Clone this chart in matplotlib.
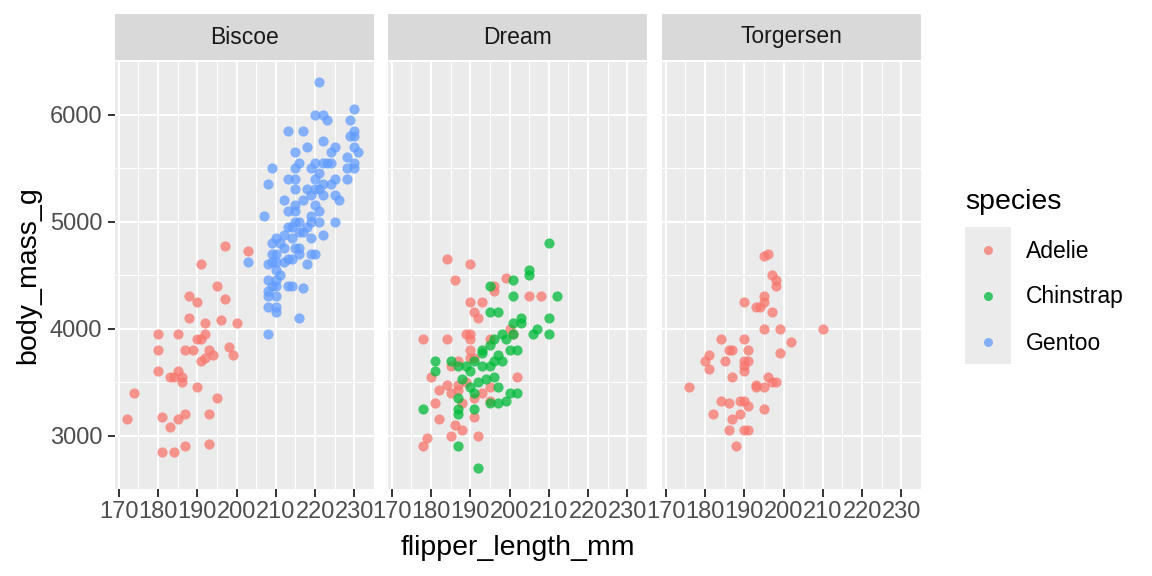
import matplotlib
matplotlib.use("Agg")
import matplotlib.pyplot as plt
import numpy as np

plt.rcParams['font.family'] = ['Liberation Sans', 'DejaVu Sans']

# values (flipper_length_mm, body_mass_g)
islands = ['Biscoe', 'Dream', 'Torgersen']
species = ['Adelie', 'Chinstrap', 'Gentoo']
species_colors = {'Adelie': '#F8766D', 'Chinstrap': '#00BA38', 'Gentoo': '#619CFF'}

biscoe_adelie_flipper = [197, 203, 191, 195, 188, 190, 197, 188, 192, 196, 200, 180, 185, 192, 190,
                         191, 180, 187, 189, 193, 198, 199, 194, 192, 191, 180, 185, 183, 184, 186,
                         186, 190, 174, 195, 172, 181, 185, 187, 193, 183, 181, 184, 187, 193]
biscoe_adelie_mass = [4775, 4725, 4600, 4400, 4300, 4250, 4275, 4100, 4050, 4075, 4050, 3950, 3950, 3950, 3900,
                      3900, 3800, 3800, 3800, 3800, 3825, 3750, 3750, 3725, 3700, 3600, 3600, 3550, 3550, 3550,
                      3500, 3450, 3400, 3350, 3150, 3175, 3150, 3200, 3200, 3075, 2850, 2850, 2900, 2925]

biscoe_gentoo_flipper = [221, 220, 222, 223, 230, 229, 230, 230, 229, 213, 217, 222, 225, 224, 218,
                         215, 230, 231, 216, 215, 219, 220, 222, 223, 224, 228, 230, 228, 230, 209,
                         221, 220, 213, 215, 225, 228, 208, 222, 224, 215, 218, 220, 221, 219, 222,
                         225, 226, 212, 217, 215, 220, 213, 215, 221, 219, 207, 225, 215, 216, 219,
                         221, 213, 214, 218,
                         210, 212, 214, 216, 217, 219, 222, 209, 211, 212, 215, 216, 216, 209, 210,
                         219, 220, 203, 213, 214, 212, 218, 208, 209, 210, 210, 211, 208, 210, 209,
                         210, 213, 214, 217, 208, 208, 210, 208, 210, 210, 216, 208]
biscoe_gentoo_mass = [6300, 6000, 6000, 5950, 6050, 5950, 5850, 5800, 5800, 5850, 5850, 5750, 5700, 5650, 5700,
                      5650, 5700, 5650, 5550, 5500, 5500, 5550, 5550, 5550, 5550, 5600, 5550, 5500, 5500, 5500,
                      5450, 5400, 5400, 5400, 5400, 5400, 5350, 5350, 5350, 5300, 5300, 5300, 5300, 5250, 5250,
                      5250, 5200, 5200, 5200, 5150, 5150, 5100, 5100, 5100, 5050, 5050, 5000, 5000, 5000, 5000,
                      5000, 4950, 4950, 4950,
                      4850, 4875, 4850, 4900, 4900, 4850, 4875, 4800, 4800, 4750, 4750, 4750, 4700, 4700, 4700,
                      4700, 4700, 4625, 4650, 4650, 4625, 4600, 4600, 4625, 4625, 4550, 4500, 4450, 4450, 4400,
                      4400, 4400, 4400, 4375, 4350, 4300, 4300, 4200, 4200, 4150, 4100, 3950]

dream_adelie_flipper = [184, 190, 186, 199, 196, 196, 205, 208, 190, 193, 191, 192, 200, 201, 178,
                        184, 189, 190, 190, 195, 190, 190, 191, 185, 187, 180, 184, 187, 189, 182,
                        185, 187, 193, 195, 202, 181, 188, 191, 195, 182, 191, 186, 188, 185, 192,
                        179, 178]
dream_adelie_mass = [4650, 4600, 4450, 4475, 4400, 4350, 4300, 4300, 4250, 4250, 4150, 4100, 4000, 3950, 3900,
                     3900, 3950, 3950, 3900, 3900, 3800, 3725, 3725, 3650, 3700, 3550, 3475, 3475, 3500, 3425,
                     3400, 3425, 3400, 3450, 3550, 3300, 3300, 3350, 3325, 3150, 3175, 3100, 3050, 3000, 3000,
                     2975, 2900]

dream_chinstrap_flipper = [210, 205, 205, 201, 195, 201, 212, 195, 197, 203, 210, 201, 203, 207, 206,
                           210, 198, 199, 201, 196, 195, 193, 193, 200, 202, 197, 198, 196, 181, 185,
                           187, 189, 191, 193, 195, 181, 190, 188, 192, 194, 196, 197, 190, 191, 200,
                           202, 187, 199, 195, 197, 178, 187, 187, 191, 187, 192]
dream_chinstrap_mass = [4800, 4550, 4500, 4450, 4400, 4300, 4300, 4150, 4150, 4100, 4100, 4050, 4050, 4000, 3950,
                        3950, 3950, 3900, 3950, 3900, 3850, 3800, 3775, 3800, 3800, 3750, 3700, 3700, 3700, 3700,
                        3650, 3650, 3700, 3650, 3650, 3600, 3600, 3525, 3500, 3525, 3550, 3450, 3450, 3400, 3400,
                        3400, 3350, 3325, 3300, 3300, 3250, 3250, 3200, 3250, 2900, 2700]

torgersen_adelie_flipper = [196, 195, 197, 198, 198, 195, 195, 190, 193, 194, 197, 195, 199, 210, 184,
                            190, 202, 186, 187, 191, 199, 181, 180, 185, 190, 191, 190, 181, 190, 187,
                            196, 197, 198, 193, 193, 195, 176, 184, 186, 189, 190, 191, 195, 182, 189,
                            187, 186, 190, 191, 188]
torgersen_adelie_mass = [4700, 4675, 4500, 4450, 4400, 4300, 4250, 4250, 4200, 4200, 4150, 4000, 4000, 4000, 3900,
                         3900, 3875, 3800, 3800, 3800, 3775, 3750, 3700, 3700, 3700, 3700, 3650, 3625, 3600, 3550,
                         3550, 3500, 3500, 3475, 3450, 3450, 3450, 3325, 3300, 3325, 3325, 3275, 3250, 3200, 3200,
                         3150, 3050, 3050, 3050, 2900]

panel_data = {
    'Biscoe': [('Adelie', biscoe_adelie_flipper, biscoe_adelie_mass),
               ('Gentoo', biscoe_gentoo_flipper, biscoe_gentoo_mass)],
    'Dream': [('Adelie', dream_adelie_flipper, dream_adelie_mass),
              ('Chinstrap', dream_chinstrap_flipper, dream_chinstrap_mass)],
    'Torgersen': [('Adelie', torgersen_adelie_flipper, torgersen_adelie_mass)],
}

x_ticks = [170, 180, 190, 200, 210, 220, 230]
y_ticks = [3000, 4000, 5000, 6000]

W, H = 1152, 576
fig = plt.figure(figsize=(W / 100, H / 100), dpi=100)


def px_axes(left, top, right, bottom):
    return fig.add_axes([left / W, 1 - bottom / H, (right - left) / W, (bottom - top) / H])


# shared scales with ggplot-style 5% expansion
all_x = np.concatenate([np.array(f) for sets in panel_data.values() for _, f, _ in sets])
all_y = np.concatenate([np.array(m) for sets in panel_data.values() for _, _, m in sets])
xpad = (all_x.max() - all_x.min()) * 0.05
ypad = (all_y.max() - all_y.min()) * 0.05
xlim = (all_x.min() - xpad, all_x.max() + xpad)
ylim = (all_y.min() - ypad, all_y.max() + ypad)

panel_left = [115, 388, 662]
panel_w = 259
panel_top, panel_bottom = 61, 489

for i, island in enumerate(islands):
    l = panel_left[i]
    ax = px_axes(l, panel_top, l + panel_w, panel_bottom)
    ax.set_facecolor('#EBEBEB')
    for s in ax.spines.values():
        s.set_visible(False)
    ax.set_xlim(*xlim)
    ax.set_ylim(*ylim)
    ax.set_xticks(x_ticks)
    ax.set_yticks(y_ticks)
    ax.set_xticks([t + 5 for t in x_ticks], minor=True)
    ax.set_yticks([2500, 3500, 4500, 5500, 6500], minor=True)
    ax.grid(which='major', color='white', linewidth=1.5)
    ax.grid(which='minor', color='white', linewidth=0.75)
    ax.set_axisbelow(True)
    ax.tick_params(which='minor', length=0)
    ax.tick_params(which='major', axis='x', length=5.5, width=1.4, color='#333333',
                   labelsize=17, labelcolor='#4D4D4D', pad=3.5)
    if i == 0:
        ax.tick_params(which='major', axis='y', length=5, width=1.4, color='#333333',
                       labelsize=17, labelcolor='#4D4D4D', pad=4)
    else:
        ax.tick_params(which='major', axis='y', length=0, labelleft=False)

    for sp, fl, ms in panel_data[island]:
        ax.scatter(fl, ms, s=54, color=species_colors[sp], alpha=0.75, linewidths=0, zorder=3)

    # facet strip
    st = px_axes(l, 14, l + panel_w, 60)
    st.set_facecolor('#D9D9D9')
    st.set_xticks([])
    st.set_yticks([])
    for s in st.spines.values():
        s.set_visible(False)
    st.text(0.5, 0.5, island, ha='center', va='center', fontsize=16.5, color='#1A1A1A',
            transform=st.transAxes)

fig.text(518 / W, 1 - 548 / H, 'flipper_length_mm', ha='center', va='center', fontsize=20.5)
fig.text(28 / W, 1 - 275 / H, 'body_mass_g', ha='center', va='center', rotation=90, fontsize=20.5)

# legend
fig.text(965 / W, 1 - 202 / H, 'species', ha='left', va='center', fontsize=20.5)
key = px_axes(965, 227, 1011, 364)
key.set_facecolor('#EBEBEB')
key.set_xticks([])
key.set_yticks([])
for s in key.spines.values():
    s.set_visible(False)
key.set_xlim(0, 1)
key.set_ylim(364, 227)
key_y = [250, 296, 342]
for sp, ky in zip(species, key_y):
    key.scatter([0.5], [ky], s=42, color=species_colors[sp], alpha=0.75, linewidths=0)
    fig.text(1026 / W, 1 - (ky + 1) / H, sp, ha='left', va='center', fontsize=16.5)

fig.savefig('out.png', dpi=100)
